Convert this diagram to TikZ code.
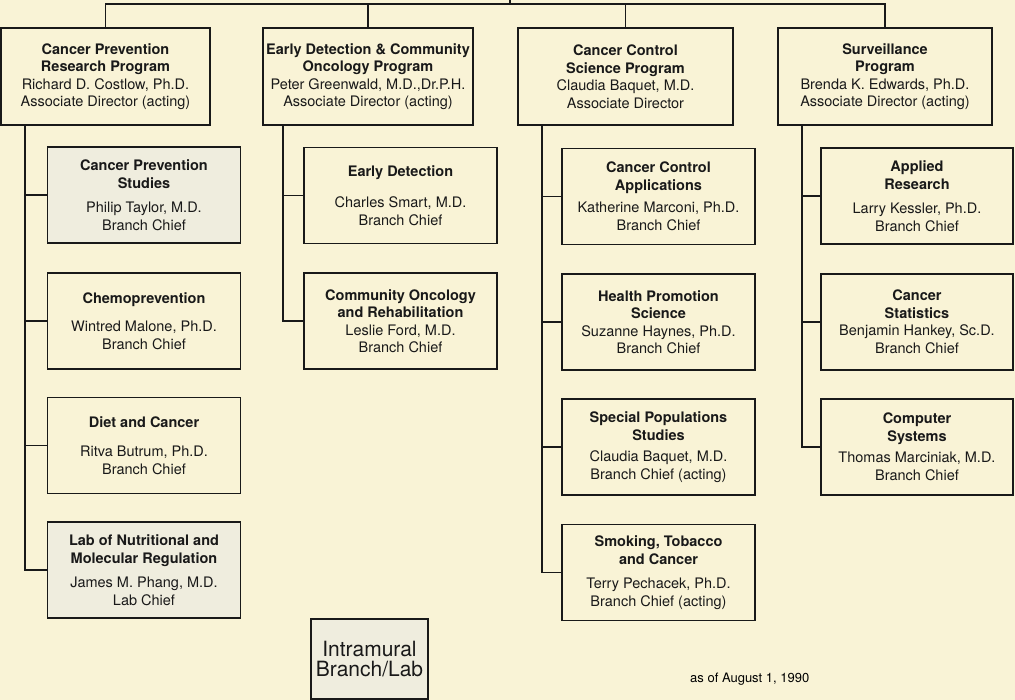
\documentclass[tikz,border=0pt]{standalone}
\usepackage{fontspec}
\setmainfont{TeX Gyre Heros}
\usetikzlibrary{positioning}

\definecolor{bgcream}{RGB}{249,243,214}
\definecolor{labshade}{RGB}{239,237,222}

\tikzset{
  orgline/.style={line width=1.5pt, color=black!90},
  progbox/.style={draw, orgline, fill=bgcream, align=center, inner sep=0pt,
    minimum height=97pt, font=\fontsize{14.5}{17.5}\selectfont},
  subbox/.style={progbox, minimum width=193pt, minimum height=96pt},
  labbox/.style={subbox, fill=labshade},
}

\begin{document}
\begin{tikzpicture}[x=1pt,y=1pt,yscale=-1]
\useasboundingbox (0,0) rectangle (1015,700);
\fill[bgcream] (0,0) rectangle (1015,700);

% program level
\node[progbox, minimum width=209pt] (cp) at (105.5,76.5) {\textbf{Cancer Prevention}\\\textbf{Research Program}\\Richard D. Costlow, Ph.D.\\Associate Director (acting)};
\node[progbox, minimum width=210pt] (ed) at (368,76.5) {\textbf{Early Detection \& Community}\\\textbf{Oncology Program}\\Peter Greenwald, M.D.,Dr.P.H.\\Associate Director (acting)};
\node[progbox, minimum width=215pt] (cc) at (625.5,76.5) {\textbf{Cancer Control}\\\textbf{Science Program}\\Claudia Baquet, M.D.\\Associate Director};
\node[progbox, minimum width=214pt] (sv) at (885,76.5) {\textbf{Surveillance}\\\textbf{Program}\\Brenda K. Edwards, Ph.D.\\Associate Director (acting)};

% top bar
\coordinate (root) at (510,0);
\coordinate (bar) at (510,4);
\draw[orgline] (root) -- (bar);
\draw[orgline] (cp.north) |- (bar) -| (sv.north);
\draw[orgline] (ed.north) |- (bar);
\draw[orgline] (cc.north) |- (bar);

% cancer prevention branches
\node[labbox] (cps) at (144,195) {\textbf{Cancer Prevention}\\\textbf{Studies}\\[7pt]Philip Taylor, M.D.\\Branch Chief};
\node[subbox] (chemo) at (144,321) {\textbf{Chemoprevention}\\[11pt]Wintred Malone, Ph.D.\\Branch Chief};
\node[subbox] (diet) at (144,445.5) {\textbf{Diet and Cancer}\\[12pt]Ritva Butrum, Ph.D.\\Branch Chief};
\node[labbox] (lnmr) at (144,570) {\textbf{Lab of Nutritional and}\\\textbf{Molecular Regulation}\\[7pt]James M. Phang, M.D.\\Lab Chief};

% early detection branches
\node[subbox] (edb) at (400.5,195.5) {\textbf{Early Detection}\\[14pt]Charles Smart, M.D.\\Branch Chief};
\node[subbox] (cor) at (400.5,321) {\textbf{Community Oncology}\\\textbf{and Rehabilitation}\\Leslie Ford, M.D.\\Branch Chief};

% cancer control branches
\node[subbox] (cca) at (658.5,196.5) {\textbf{Cancer Control}\\\textbf{Applications}\\[5pt]Katherine Marconi, Ph.D.\\Branch Chief};
\node[subbox] (hps) at (658.5,322) {\textbf{Health Promotion}\\\textbf{Science}\\Suzanne Haynes, Ph.D.\\Branch Chief};
\node[subbox] (sps) at (658.5,447) {\textbf{Special Populations}\\\textbf{Studies}\\[4pt]Claudia Baquet, M.D.\\Branch Chief (acting)};
\node[subbox] (stc) at (658.5,572.5) {\textbf{Smoking, Tobacco}\\\textbf{and Cancer}\\[7pt]Terry Pechacek, Ph.D.\\Branch Chief (acting)};

% surveillance branches
\node[subbox, minimum width=192pt] (ar) at (917,196) {\textbf{Applied}\\\textbf{Research}\\[7pt]Larry Kessler, Ph.D.\\Branch Chief};
\node[subbox, minimum width=192pt] (cs) at (917,322) {\textbf{Cancer}\\\textbf{Statistics}\\Benjamin Hankey, Sc.D.\\Branch Chief};
\node[subbox, minimum width=192pt] (csys) at (917,447) {\textbf{Computer}\\\textbf{Systems}\\[4pt]Thomas Marciniak, M.D.\\Branch Chief};

% trunks
\coordinate (cpT) at (25,125);
\coordinate (edT) at (283,125);
\coordinate (ccT) at (542,125);
\coordinate (svT) at (802,125);
\draw[orgline] (cpT) |- (cps.west);
\draw[orgline] (cpT) |- (chemo.west);
\draw[orgline] (cpT) |- (diet.west);
\draw[orgline] (cpT) |- (lnmr.west);
\draw[orgline] (edT) |- (edb.west);
\draw[orgline] (edT) |- (cor.west);
\draw[orgline] (ccT) |- (cca.west);
\draw[orgline] (ccT) |- (hps.west);
\draw[orgline] (ccT) |- (sps.west);
\draw[orgline] (ccT) |- (stc.west);
\draw[orgline] (svT) |- (ar.west);
\draw[orgline] (svT) |- (cs.west);
\draw[orgline] (svT) |- (csys.west);

% legend
\node[draw, orgline, fill=labshade, align=center, inner sep=0pt, minimum width=117pt, minimum height=80pt,
  font=\fontsize{21}{19.5}\selectfont] (key) at (369.5,659) {Intramural\\Branch/Lab};
\node[anchor=base west, inner sep=0pt, font=\fontsize{13}{15}\selectfont] (asof) at (690,682) {as of August 1, 1990};

\end{tikzpicture}
\end{document}
